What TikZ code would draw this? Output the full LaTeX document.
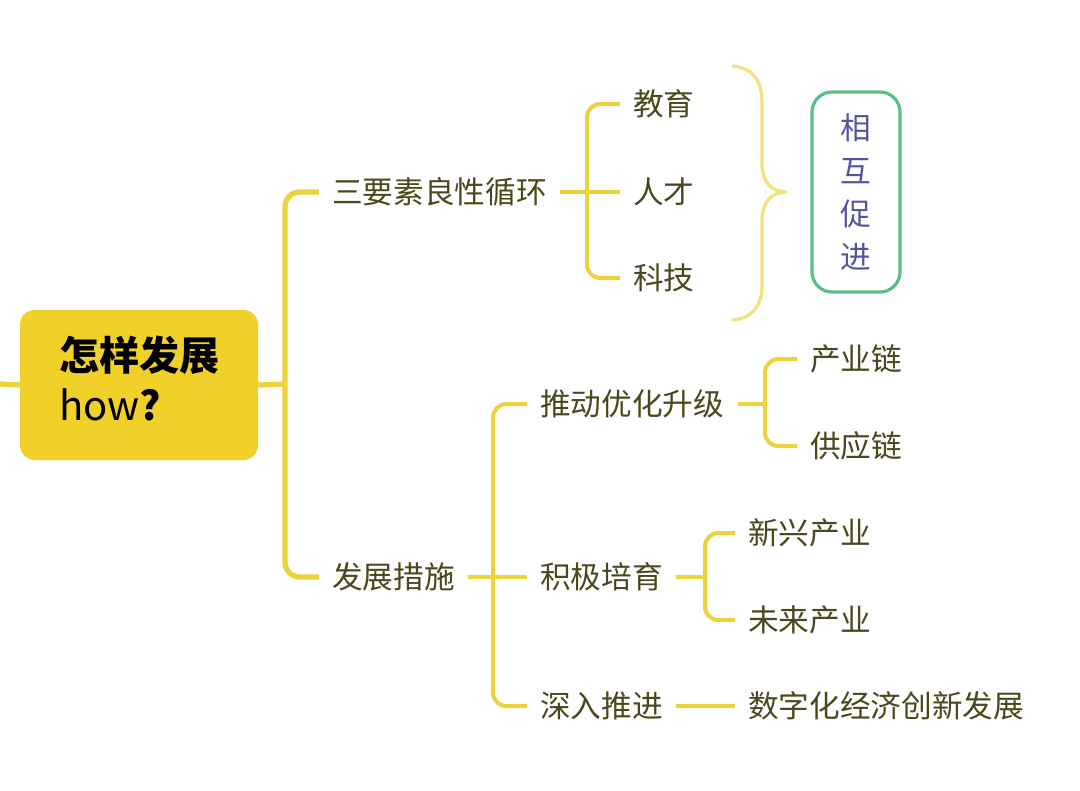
\documentclass[tikz,border=0pt]{standalone}
\usepackage{fontspec}
\newfontfamily\cjk{Noto Sans CJK SC}
\definecolor{rootfill}{HTML}{F2D02A}
\definecolor{lnc}{HTML}{EDD23C}
\definecolor{bracec}{HTML}{F2E27E}
\definecolor{txc}{HTML}{4A481C}
\definecolor{grn}{HTML}{5DBE8C}
\definecolor{pur}{HTML}{55559C}
\tikzset{
  rootbox/.style={fill=rootfill, rounded corners=11pt, minimum width=178.5pt, minimum height=112.5pt, inner sep=0pt, align=left, text width=120pt, font=\cjk\fontsize{30pt}{37.5pt}\selectfont\bfseries, text=black},
  leaf/.style={anchor=west, inner xsep=9.75pt, inner ysep=0pt, font=\cjk\fontsize{23pt}{28pt}\selectfont, text=txc},
  lnkA/.style={draw=lnc, line width=3.9pt, rounded corners=11pt},
  lnkB/.style={draw=lnc, line width=3pt, rounded corners=10pt},
  greenbox/.style={draw=grn, line width=2.4pt, rounded corners=15pt, minimum width=66pt, minimum height=150pt, align=center, font=\cjk\fontsize{23pt}{32.25pt}\selectfont, text=pur},
}
\begin{document}
\begin{tikzpicture}[x=0.75pt,y=-0.75pt]
\fill[white] (0,0) rectangle (1080,790);
\useasboundingbox (0,0) rectangle (1080,790);

% root
\node[rootbox] (root) at (139,385) {怎样发展\\{\fontseries{m}\selectfont how}?\par\vspace{10pt}};
\coordinate (lstub) at (0,384);

% level 1
\node[leaf] (a1) at (319,192) {三要素良性循环};
\node[leaf] (a2) at (319,577) {发展措施};

% level 2 under a1
\node[leaf] (b1) at (620,104) {教育};
\node[leaf] (b2) at (620,192) {人才};
\node[leaf] (b3) at (620,278) {科技};

% level 2 under a2
\node[leaf] (c1) at (527,404) {推动优化升级};
\node[leaf] (c2) at (527,577) {积极培育};
\node[leaf] (c3) at (527,706) {深入推进};

% level 3
\node[leaf] (d1) at (797,359) {产业链};
\node[leaf] (d2) at (797,446) {供应链};
\node[leaf] (e1) at (735,533) {新兴产业};
\node[leaf] (e2) at (735,620) {未来产业};
\node[leaf] (f1) at (735,706) {数字化经济创新发展};

% green box
\node[greenbox] (g) at (856,192) {相\\互\\促\\进};

% junction coordinates
\coordinate (jr) at (285,384);
\coordinate (ja) at (587,192);
\coordinate (jb) at (493,577);
\coordinate (jc) at (765,404);
\coordinate (jd) at (705,577);

% connectors
\draw[lnkA] (lstub) -- (root.west);
\draw[lnkA] (root.east) -- (jr);
\draw[lnkA] (a1.west) -- (jr |- a1.west) -- (jr |- a2.west) -- (a2.west);

\draw[lnkB] (a1.east) -- (b2.west);
\draw[lnkB] (b1.west) -- (ja |- b1.west) -- (ja |- b3.west) -- (b3.west);

\draw[lnkB] (a2.east) -- (c2.west);
\draw[lnkB] (c1.west) -- (jb |- c1.west) -- (jb |- c3.west) -- (c3.west);

\draw[lnkB] (c1.east) -- (jc);
\draw[lnkB] (d1.west) -- (jc |- d1.west) -- (jc |- d2.west) -- (d2.west);

\draw[lnkB] (c2.east) -- (jd);
\draw[lnkB] (e1.west) -- (jd |- e1.west) -- (jd |- e2.west) -- (e2.west);

\draw[lnkB] (c3.east) -- (f1.west);

% big curly brace
\draw[draw=bracec, line width=2.4pt, line cap=round]
  (733,66) .. controls (752,68) and (762,80) .. (762,102)
  -- (762,163) .. controls (762,182) and (771,192) .. (787,192)
  .. controls (771,192) and (762,202) .. (762,221)
  -- (762,286) .. controls (762,306) and (752,318) .. (733,320);
\end{tikzpicture}
\end{document}
